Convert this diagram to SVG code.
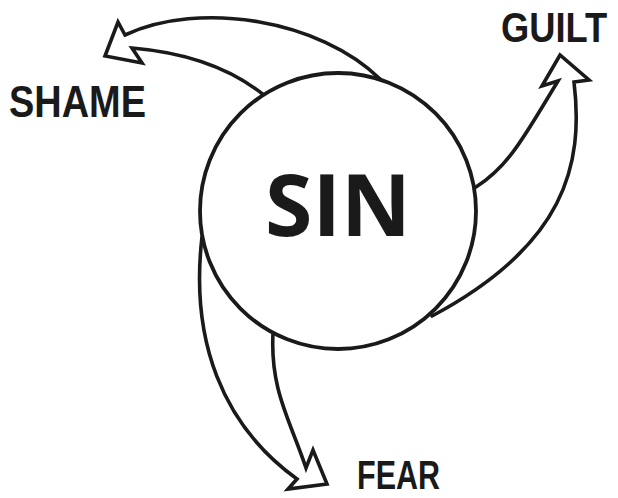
<svg xmlns="http://www.w3.org/2000/svg" width="618" height="498" viewBox="0 0 618 498">
<style>
.ln{fill:none;stroke:#1a1a1a;stroke-width:3.6;stroke-linejoin:miter;stroke-linecap:round}
.lbl{font-family:"Liberation Sans",Arial,sans-serif;font-weight:bold;fill:#1a1a1a}
</style>
<rect width="618" height="498" fill="#fff"/>
<g id="connectors">
<path id="arrow-shame" class="ln" d="M380,79 C320,20 200,0 125,35 L118,22 L105,56 L142,63 L132,48 Q215,55 265,96"/>
<path id="arrow-guilt" class="ln" d="M476,187 C510,165 525,135 558,81 L542,86 L560,55 L589,80 L574,82 C584,165 565,245 432,316"/>
<path id="arrow-fear" class="ln" d="M202,237 C190,340 222,425 297,479 L288,489 L327,484 L313,450 L306,468 C290,420 270,390 273,333"/>
</g>
<g id="sin">
<circle cx="338" cy="211" r="138" fill="#fff" stroke="#1a1a1a" stroke-width="3.8"/>
<text x="338" y="236" text-anchor="middle" font-family="'Open Sans','Liberation Sans',sans-serif" font-weight="bold" font-size="86" fill="#1a1a1a">SIN</text>
</g>
<g id="shame"><text class="lbl" transform="translate(9,117) scale(0.862,1)" x="0" y="0" font-size="44">SHAME</text></g>
<g id="guilt"><text class="lbl" transform="translate(501,42) scale(0.865,1)" x="0" y="0" font-size="42">GUILT</text></g>
<g id="fear"><text class="lbl" transform="translate(357,489) scale(0.744,1)" x="0" y="0" font-size="41">FEAR</text></g>
</svg>
